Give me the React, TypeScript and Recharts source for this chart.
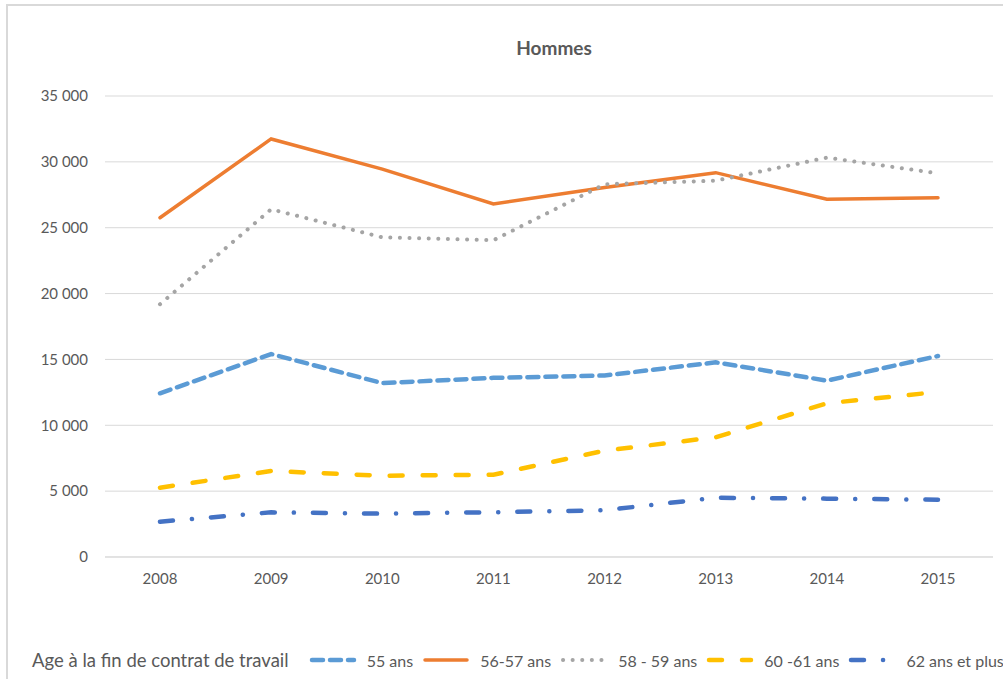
import React from 'react';
import { LineChart, Line, XAxis, YAxis, CartesianGrid } from 'recharts';

// values
const years = ['2008', '2009', '2010', '2011', '2012', '2013', '2014', '2015'];
const ans55 = [12430, 15410, 13200, 13600, 13780, 14780, 13390, 15260];
const ans5657 = [25760, 31740, 29450, 26800, 28050, 29180, 27160, 27280];
const ans5859 = [19190, 26400, 24270, 24050, 28300, 28570, 30320, 29130];
const ans6061 = [5260, 6530, 6170, 6250, 8070, 9090, 11670, 12530];
const ans62 = [2680, 3390, 3290, 3400, 3550, 4500, 4430, 4350];
const yTicks = [0, 5000, 10000, 15000, 20000, 25000, 30000, 35000];

const legendTitle = 'Age à la fin de contrat de travail';

const series = [
  { key: 'a55', name: '55 ans', values: ans55, color: '#5B9BD5', width: 4.5, dash: '11 7' },
  { key: 'a5657', name: '56-57 ans', values: ans5657, color: '#ED7D31', width: 3.5, dash: undefined },
  { key: 'a5859', name: '58 - 59 ans', values: ans5859, color: '#A5A5A5', width: 4, dash: '0.1 9.5' },
  { key: 'a6061', name: '60 -61 ans', values: ans6061, color: '#FFC000', width: 4.5, dash: '13 20' },
  { key: 'a62', name: '62 ans et plus', values: ans62, color: '#4472C4', width: 4.5, dash: '13 19 0.1 19' },
];

const data = years.map((year, i) => {
  const row: Record<string, string | number> = { year };
  series.forEach((s) => {
    row[s.key] = s.values[i];
  });
  return row;
});

const fmt = (v: number) => String(v).replace(/\B(?=(\d{3})+(?!\d))/g, ' ');

const FONT = 'Lato, "Open Sans", sans-serif';
const TEXT = '#595959';

const App: React.FC = () => {
  return (
    <div
      style={{
        position: 'fixed',
        left: 0,
        top: 0,
        width: 1003,
        height: 679,
        background: '#fff',
        overflow: 'hidden',
        fontFamily: FONT,
      }}
    >
      <div
        style={{
          position: 'absolute',
          left: 6,
          top: 4,
          width: 1020,
          height: 720,
          border: '2px solid #D9D9D9',
        }}
      />
      <div
        style={{
          position: 'absolute',
          left: 454,
          width: 200,
          top: 36,
          textAlign: 'center',
          fontWeight: 'bold',
          fontSize: 19,
          color: TEXT,
        }}
      >
        Hommes
      </div>
      <div style={{ position: 'absolute', left: 0, top: 0 }}>
        <LineChart width={1003} height={679} data={data} margin={{ top: 96, right: 10, left: 0, bottom: 92 }}>
          <CartesianGrid vertical={false} stroke="#D9D9D9" strokeWidth={1} />
          <XAxis
            dataKey="year"
            stroke="#D9D9D9"
            tickLine={false}
            tickSize={0}
            tickMargin={16}
            padding={{ left: 55, right: 55 }}
            tick={{ fill: TEXT, fontSize: 15, fontFamily: FONT }}
          />
          <YAxis
            width={105}
            domain={[0, 35000]}
            ticks={yTicks}
            axisLine={false}
            tickLine={false}
            tickSize={0}
            tickMargin={17}
            tickFormatter={fmt}
            tick={{ fill: TEXT, fontSize: 15, fontFamily: FONT }}
          />
          {series.map((s) => (
            <Line
              key={s.key}
              dataKey={s.key}
              name={s.name}
              type="linear"
              stroke={s.color}
              strokeWidth={s.width}
              strokeDasharray={s.dash}
              strokeLinecap="round"
              dot={false}
              activeDot={false}
              isAnimationActive={false}
            />
          ))}
        </LineChart>
      </div>
      <div
        style={{
          position: 'absolute',
          left: 32,
          top: 649,
          display: 'flex',
          alignItems: 'center',
          whiteSpace: 'nowrap',
          fontSize: 16,
          color: TEXT,
        }}
      >
        <span style={{ marginRight: 20, fontSize: 18.5 }}>{legendTitle}</span>
        {series.map((s) => (
          <span key={s.key} style={{ display: 'flex', alignItems: 'center', marginRight: 9 }}>
            <svg width={48} height={10} style={{ marginRight: 10 }}>
              <line
                x1={3}
                y1={5}
                x2={45}
                y2={5}
                stroke={s.color}
                strokeWidth={s.width}
                strokeDasharray={s.dash}
                strokeLinecap="round"
              />
            </svg>
            {s.name}
          </span>
        ))}
      </div>
    </div>
  );
};

export default App;
